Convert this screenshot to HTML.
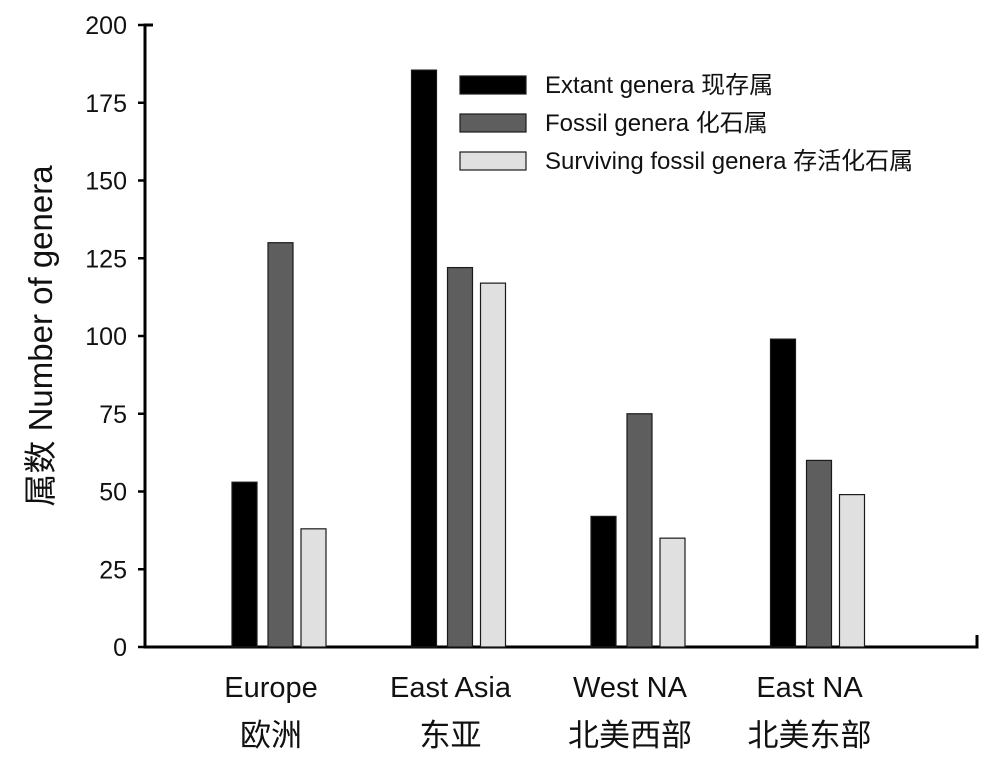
<!DOCTYPE html>
<html><head><meta charset="utf-8"><style>
body{margin:0;background:#fff;width:1000px;height:768px;overflow:hidden}
svg text{font-family:"Liberation Sans","Noto Sans CJK SC",sans-serif;fill:#111}
</style></head><body>
<svg id="chart" width="1000" height="768" viewBox="0 0 1000 768" xmlns="http://www.w3.org/2000/svg">
<g id="axes"></g>
<g id="bars"></g>
<g id="legend"></g>
<text transform="translate(52,336) rotate(-90)" text-anchor="middle" font-size="33">属数 Number of genera</text>
</svg>
<script>
const categories=["Europe","East Asia","West NA","East NA"];
const categoriesCN=["欧洲","东亚","北美西部","北美东部"];
const extant=[53,185.5,42,99];
const fossil=[130,122,75,60];
const surviving=[38,117,35,49];
const yTicks=[0,25,50,75,100,125,150,175,200];
const seriesNames=["Extant genera  现存属","Fossil genera  化石属","Surviving fossil genera 存活化石属"];
const NS="http://www.w3.org/2000/svg";
const x0=145,y0=647,yTop=25,xEnd=977;
const y=v=>y0-(v/200)*(y0-yTop);
const groupX=i=>232+i*179.5;
function mk(tag,attrs,parent){const e=document.createElementNS(NS,tag);for(const k in attrs)e.setAttribute(k,attrs[k]);parent.appendChild(e);return e;}
const axes=document.getElementById('axes');
let l=mk('path',{d:`M${x0+8},${yTop} H${x0} V${y0} H${xEnd} V${y0-12}`,fill:'none',stroke:'#000','stroke-width':3},axes);


yTicks.forEach(t=>{
 const tk=mk('line',{x1:x0-7,x2:x0,y1:y(t),y2:y(t),stroke:'#000','stroke-width':2.5},axes);
 
 
 const tx=mk('text',{x:x0-18,y:y(t)+9,'text-anchor':'end','font-size':25},axes);
 tx.textContent=t;
 
 
});
const bars=document.getElementById('bars');
const series=[extant,fossil,surviving];
const fills=['#000','#5e5e5e','#e0e0e0'];
const offs=[0,36,69];
categories.forEach((c,i)=>{
 series.forEach((s,j)=>{
  const r=mk('rect',{x:groupX(i)+offs[j],y:y(s[i]),width:25,height:y0-y(s[i]),fill:fills[j],stroke:'#1a1a1a','stroke-width':1.2},bars);
  
  
 });
 const cx=groupX(i)+47;
 const t1=mk('text',{x:cx-8,y:697,'text-anchor':'middle','font-size':29},axes);
 t1.textContent=c;
 
 
 const t2=mk('text',{x:cx-8,y:746,'text-anchor':'middle','font-size':31},axes);
 t2.textContent=categoriesCN[i];
 
 
});
const lg=document.getElementById('legend');
seriesNames.forEach((n,j)=>{
 const yy=76+j*38;
 const r=mk('rect',{x:460,y:yy,width:66,height:18,fill:fills[j],stroke:'#1a1a1a','stroke-width':1.2},lg);
 
 
 const t=mk('text',{x:545,y:yy+17,'font-size':24},lg);
 t.textContent=n;
 
 
});
</script>
</body></html>
